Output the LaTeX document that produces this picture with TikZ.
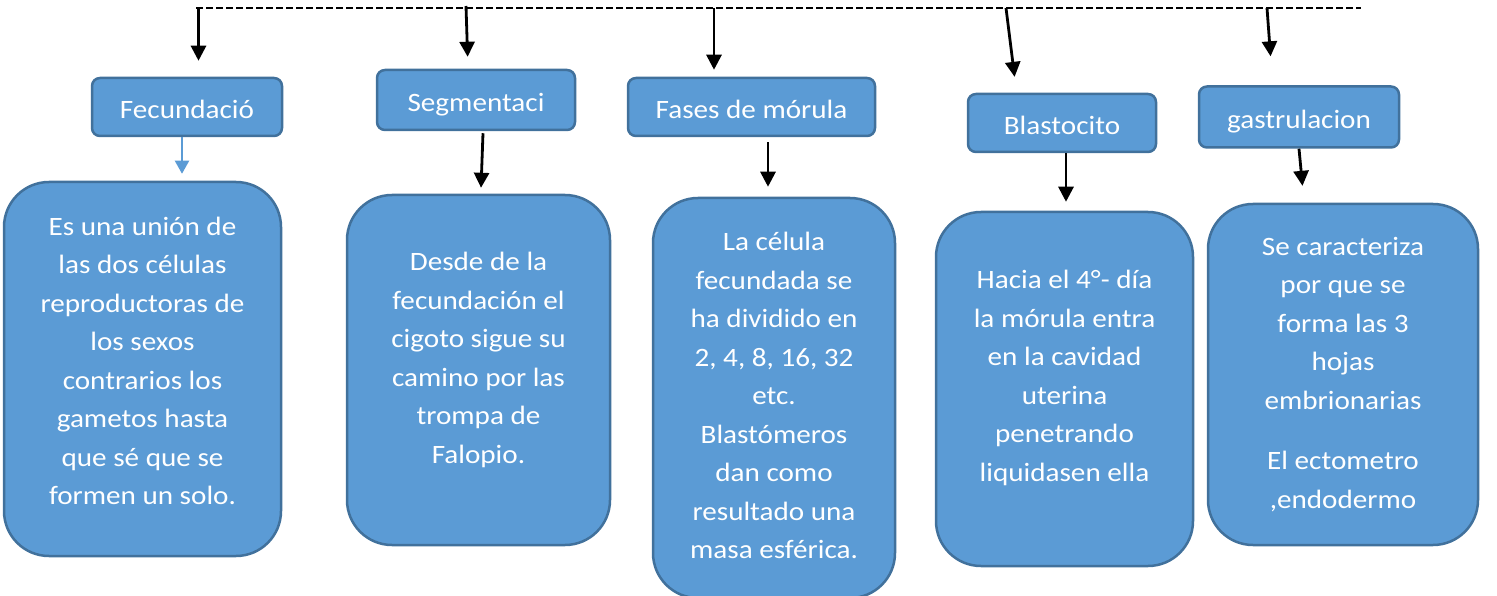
\documentclass[tikz,border=0pt]{standalone}
\usepackage{fontspec}
\setmainfont{Carlito}[FakeStretch=1.1]
\usetikzlibrary{arrows.meta,calc}
\definecolor{caja}{HTML}{5B9BD5}
\definecolor{borde}{HTML}{41719C}
\newcommand{\texto}[2]{\parbox{230pt}{\centering #2\par\vspace*{#1}}}
\begin{document}
\begin{tikzpicture}[x=1pt,y=-1pt,
    font=\fontsize{26.5}{38.5}\selectfont,
    cab/.style={draw=borde,fill=caja,line width=2.5pt,rounded corners=8pt,text=white,inner sep=0pt,
      text height=23pt,text depth=0pt},
    cuerpo/.style={draw=borde,fill=caja,line width=2.5pt,rounded corners=45pt,text=white,inner sep=0pt},
    flecha/.style={line width=2.8pt,-{Triangle[width=15pt,length=15pt]}}]
  \useasboundingbox (0,0) rectangle (1497,596);
  \coordinate (izq) at (196,8);
  \coordinate (der) at (1361,8);
  \draw [line width=1.6pt,dash pattern=on 7pt off 3pt] (izq)--(der);
  \coordinate (t1) at (198.5,8);
  \coordinate (t2) at (466,6);
  \coordinate (t3) at (714,8);
  \coordinate (t4) at (1006,8);
  \coordinate (t5) at (1267,8);
  \node [cab,minimum width=190,minimum height=58] (fec) at (187,107) {Fecundació};
  \node [cab,minimum width=198,minimum height=60] (seg) at (476,100) {Segmentaci};
  \node [cab,minimum width=247,minimum height=58] (fases) at (751.5,107) {Fases de mórula};
  \node [cab,minimum width=188,minimum height=58] (blast) at (1062,123) {Blastocito};
  \node [cab,minimum width=200,minimum height=61] (gast) at (1299,117) {gastrulacion};
  \node [cuerpo,minimum width=277,minimum height=374] (b1) at (142.5,369)
    {\texto{16pt}{Es una unión de\\las dos células\\reproductoras de\\los sexos\\contrarios los\\gametos hasta\\que sé que se\\formen un solo.}};
  \node [cuerpo,minimum width=263,minimum height=350] (b2) at (478.5,370)
    {\texto{20pt}{Desde de la\\fecundación el\\cigoto sigue su\\camino por las\\trompa de\\Falopio.}};
  \node [cuerpo,minimum width=242,minimum height=400] (b3) at (774,398)
    {\texto{5pt}{La célula\\fecundada se\\ha dividido en\\2, 4, 8, 16, 32\\etc.\\Blastómeros\\dan como\\resultado una\\masa esférica.}};
  \node [cuerpo,minimum width=257,minimum height=354] (b4) at (1064.5,389)
    {\texto{22pt}{Hacia el 4°- día\\la mórula entra\\en la cavidad\\uterina\\penetrando\\liquidasen ella}};
  \node [cuerpo,minimum width=270,minimum height=341] (b5) at (1343,374.5)
    {\texto{0pt}{Se caracteriza\\por que se\\forma las 3\\hojas\\embrionarias\\[22pt]El ectometro\\,endodermo}};
  \draw [flecha,shorten >=16pt] (t1)--($(fec.north)+(11.5,0)$);
  \draw [flecha,shorten >=12pt] (t2)--($(seg.north)+(-8,0)$);
  \draw [flecha,shorten >=7pt] (t3)--($(fases.north)+(-37.5,0)$);
  \draw [flecha,shorten >=16pt] (t4)--($(blast.north)+(-45.4,0)$);
  \draw [flecha,shorten >=29pt] (t5)--($(gast.north)+(-26.3,0)$);
  \draw [line width=2pt,caja,-{Triangle[width=14pt,length=13pt]},shorten >=7pt]
    ($(fec.south)+(-5,0)$)--($(b1.north)+(39.5,0)$);
  \draw [flecha,shorten >=6pt] ($(seg.south)+(7,2)$)--($(b2.north)+(2.3,0)$);
  \draw [flecha,shorten <=5pt,shorten >=10pt] ($(fases.south)+(16.5,0)$)--($(b3.north)+(-6,0)$);
  \draw [flecha,shorten >=9pt] ($(blast.south)+(4,0)$)--($(b4.north)+(1.5,0)$);
  \draw [flecha,shorten >=17pt] (gast.south)--($(b5.north)+(-38.9,0)$);
\end{tikzpicture}
\end{document}
